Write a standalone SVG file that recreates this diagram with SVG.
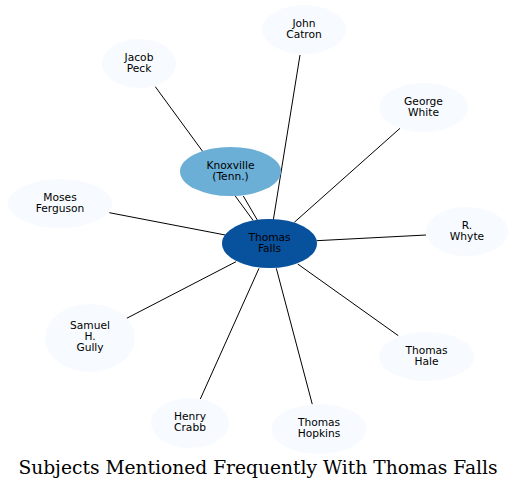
<svg xmlns="http://www.w3.org/2000/svg" width="516" height="490" viewBox="0 0 516 490">
<style>
.e{stroke:#000;stroke-width:1;fill:none}
.n{fill:#f7fbff}
.k{fill:#6baed6}
.c{fill:#08519c}
text{font-family:"DejaVu Sans",sans-serif;font-size:10.67px;text-anchor:middle;fill:#000}
.t{font-family:"DejaVu Serif",serif;font-size:18.67px}
</style>
<rect width="516" height="490" fill="#fff"/>
<g id="edges">
<line class="e" x1="155.3" y1="86.7" x2="253.3" y2="220.7"/>
<line class="e" x1="243.3" y1="196" x2="257.3" y2="220"/>
<line class="e" x1="300" y1="55" x2="273.3" y2="220"/>
<line class="e" x1="400" y1="128.3" x2="294.3" y2="222.3"/>
<line class="e" x1="109.3" y1="212.7" x2="225.3" y2="235"/>
<line class="e" x1="426" y1="235" x2="316.7" y2="240.7"/>
<line class="e" x1="126.7" y1="318.3" x2="236" y2="261.7"/>
<line class="e" x1="200.3" y1="399" x2="259" y2="268.3"/>
<line class="e" x1="312.3" y1="404.3" x2="276.3" y2="268.3"/>
<line class="e" x1="398.3" y1="335.7" x2="297.7" y2="264"/>
</g>
<g id="knoxville"><ellipse class="k" cx="230.5" cy="171.5" rx="50.5" ry="24.5"/><text x="230.5" y="168.5">Knoxville</text><text x="230.5" y="179.5">(Tenn.)</text></g>
<g id="thomas-falls"><ellipse class="c" cx="269.5" cy="243.5" rx="47.5" ry="24.5"/><text x="269.5" y="240.5">Thomas</text><text x="269.5" y="251.5">Falls</text></g>
<g id="john-catron"><ellipse class="n" cx="304" cy="29.5" rx="42" ry="24.5"/><text x="304" y="26.5">John</text><text x="304" y="37.5">Catron</text></g>
<g id="jacob-peck"><ellipse class="n" cx="139" cy="63.5" rx="37" ry="24.5"/><text x="139" y="60.5">Jacob</text><text x="139" y="71.5">Peck</text></g>
<g id="george-white"><ellipse class="n" cx="423.5" cy="107.5" rx="44.5" ry="24.5"/><text x="423.5" y="104.5">George</text><text x="423.5" y="115.5">White</text></g>
<g id="moses-ferguson"><ellipse class="n" cx="60" cy="203.5" rx="52" ry="24.5"/><text x="60" y="200.5">Moses</text><text x="60" y="211.5">Ferguson</text></g>
<g id="r-whyte"><ellipse class="n" cx="467" cy="231.5" rx="41" ry="24.5"/><text x="467" y="228.5">R.</text><text x="467" y="239.5">Whyte</text></g>
<g id="samuel-h-gully"><ellipse class="n" cx="90" cy="338" rx="45" ry="34"/><text x="90" y="328.5">Samuel</text><text x="90" y="339.5">H.</text><text x="90" y="350.5">Gully</text></g>
<g id="henry-crabb"><ellipse class="n" cx="190" cy="423" rx="39" ry="25"/><text x="190" y="420">Henry</text><text x="190" y="431">Crabb</text></g>
<g id="thomas-hopkins"><ellipse class="n" cx="319" cy="429" rx="47.5" ry="25"/><text x="319" y="426">Thomas</text><text x="319" y="437">Hopkins</text></g>
<g id="thomas-hale"><ellipse class="n" cx="426.5" cy="356.5" rx="47.5" ry="24.5"/><text x="426.5" y="353.5">Thomas</text><text x="426.5" y="364.5">Hale</text></g>
<text class="t" x="258" y="474">Subjects Mentioned Frequently With Thomas Falls</text>
</svg>
